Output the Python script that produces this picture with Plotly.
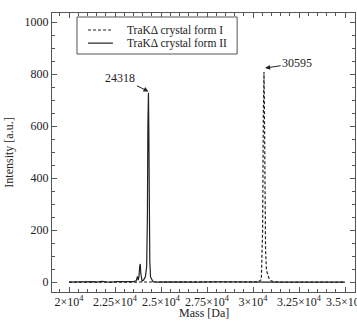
import plotly.graph_objects as go

# Form II (solid)
mass_ii = [20000, 20500, 21000, 21300, 21500, 21800, 22000, 22300, 22600, 23000, 23300, 23500,
           23650, 23690, 23720, 23760, 23800, 23840, 23870, 23900, 23930, 23970, 24050, 24150,
           24220, 24260, 24285, 24300, 24318, 24335, 24355, 24390, 24430, 24470, 24510, 24560,
           24650, 24800, 25200, 26000, 27000, 28000, 29000, 30000, 31000, 32000, 33000, 34000, 35000]
int_ii = [0, 1, 0, 2, 0, 3, 1, 0, 2, 1, 0, 2,
          5, 18, 22, 8, 20, 60, 70, 35, 10, 4, 8, 20,
          60, 250, 600, 720, 728, 600, 300, 80, 20, 12, 6, 2,
          1, 0, 1, 0, 0, 1, 0, 0, 0, 0, 0, 0, 0]

# Form I (dashed)
mass_i = [20000, 22000, 24000, 26000, 28000, 29500, 30300, 30450, 30520, 30560, 30580, 30595,
          30615, 30640, 30680, 30730, 30800, 30880, 30980, 31100, 31500, 33000, 35000]
int_i = [0, 0, 0, 0, 0, 0, 1, 10, 200, 650, 790, 808,
         700, 400, 120, 45, 25, 12, 5, 2, 0, 0, 0]

series_names = ["TraKΔ crystal form I", "TraKΔ crystal form II"]
series_dash = ["3px,2px", "solid"]

x_tickvals = [20000, 22500, 25000, 27500, 30000, 32500, 35000]
x_ticktext = ["2×10<sup>4</sup>", "2.25×10<sup>4</sup>", "2.5×10<sup>4</sup>", "2.75×10<sup>4</sup>",
              "3×10<sup>4</sup>", "3.25×10<sup>4</sup>", "3.5×10<sup>4</sup>"]
y_tickvals = [0, 200, 400, 600, 800, 1000]

x_title = "Mass [Da]"
y_title = "Intensity [a.u.]"

peak_labels = ["24318", "30595"]
peak_x = [24318, 30595]
peak_y = [728, 808]

font = dict(family="Liberation Serif, Times New Roman, serif", size=12, color="#222")
legend_font = dict(family="Liberation Serif, Times New Roman, serif", size=11.5, color="#222")

fig = go.Figure()
fig.add_trace(go.Scatter(x=mass_i, y=int_i, mode="lines", name=series_names[0],
                         line=dict(color="#222", width=1.2, dash=series_dash[0])))
fig.add_trace(go.Scatter(x=mass_ii, y=int_ii, mode="lines", name=series_names[1],
                         line=dict(color="#222", width=1.2, dash=series_dash[1])))

fig.add_annotation(x=peak_x[0], y=peak_y[0] + 5, text=peak_labels[0], showarrow=True,
                   arrowhead=2, arrowsize=1, arrowwidth=1, arrowcolor="#222",
                   ax=-28, ay=-14, font=font)
fig.add_annotation(x=peak_x[1] + 60, y=peak_y[1] + 15, text=peak_labels[1], showarrow=True,
                   arrowhead=2, arrowsize=1, arrowwidth=1, arrowcolor="#222",
                   ax=32, ay=-5, font=font)

# Manual compact legend (box, line samples, labels)
fig.add_shape(type="rect", xref="paper", yref="paper", x0=0.0825, x1=0.611, y0=0.853, y1=0.9857,
              line=dict(color="#555", width=1), fillcolor="white", layer="above")
row_y = [0.939, 0.892]
for i, name in enumerate(series_names):
    fig.add_shape(type="line", xref="paper", yref="paper", x0=0.119, x1=0.201, y0=row_y[i], y1=row_y[i],
                  line=dict(color="#222", width=1.2, dash=series_dash[i]), layer="above")
    fig.add_annotation(xref="paper", yref="paper", x=0.241, y=row_y[i], text=name, showarrow=False,
                       xanchor="left", yanchor="middle", font=legend_font)

# last x tick label drawn as annotation so it can run past the window edge like the original
fig.add_annotation(x=x_tickvals[-1], xref="x", y=0, yref="paper", text=x_ticktext[-1],
                   showarrow=False, xanchor="center", yanchor="top", yshift=0, font=font)

# x axis title placed close under the tick labels as in the original
fig.add_annotation(x=0.5, xref="paper", y=-0.074, yref="paper", text=x_title,
                   showarrow=False, xanchor="center", yanchor="middle", font=font)

axis_common = dict(showline=True, linecolor="#555", linewidth=1, mirror="ticks",
                   ticks="inside", ticklen=5, tickcolor="#555", showgrid=False, zeroline=False,
                   tickfont=font)

fig.update_layout(
    width=357, height=322,
    margin=dict(l=52, r=2, t=13, b=30),
    paper_bgcolor="white", plot_bgcolor="white",
    font=font,
    showlegend=False,
    xaxis=dict(range=[19076, 35540], tickvals=x_tickvals, ticktext=x_ticktext[:-1] + [""],
               automargin=False, ticklabelstandoff=-1,
               minor=dict(ticks="inside", ticklen=3, dtick=500, tickcolor="#555"),
               **axis_common),
    yaxis=dict(range=[-38, 1035], tickvals=y_tickvals, automargin=False,
               title=dict(text=y_title, font=font, standoff=8),
               minor=dict(ticks="inside", ticklen=3, dtick=50, tickcolor="#555"),
               **axis_common),
)

fig.write_html("out.html", config={"displayModeBar": False},
               post_script="document.body.style.margin='0';document.body.style.overflow='hidden';")
